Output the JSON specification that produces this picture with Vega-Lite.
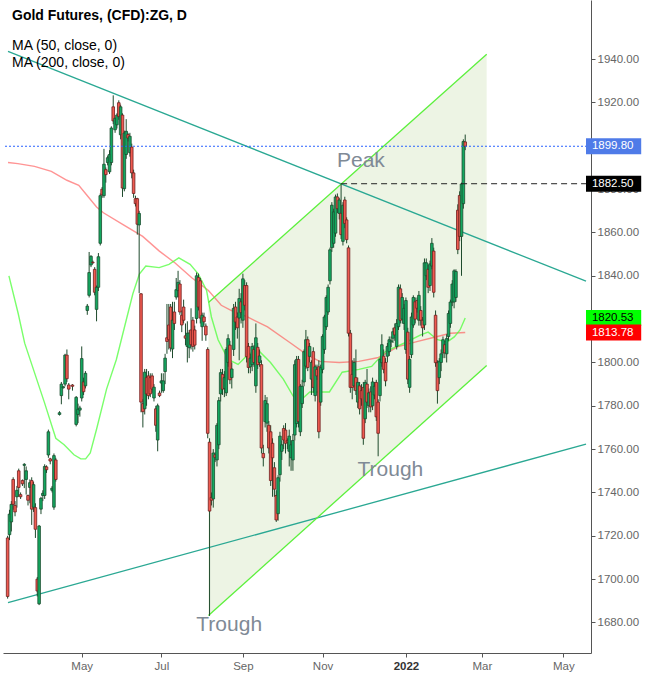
{
  "$schema": "https://vega.github.io/schema/vega-lite/v6.json",
  "width": 588,
  "height": 653,
  "autosize": "none",
  "padding": {"left": 3, "top": 0, "right": 56, "bottom": 20},
  "background": "white",
  "config": {"view": {"stroke": null}},
  "resolve": {"axis": {"x": "independent", "y": "independent"}},
  "title": {
    "text": "Gold Futures, (CFD):ZG, D",
    "subtitle": ["MA (50, close, 0)", "MA (200, close, 0)"],
    "anchor": "start",
    "frame": "group",
    "offset": -70,
    "dx": 9,
    "font": "Liberation Sans",
    "fontSize": 14,
    "fontWeight": "bold",
    "color": "#000000",
    "subtitleFont": "Liberation Sans",
    "subtitleFontSize": 14,
    "subtitleColor": "#000000",
    "subtitlePadding": 16,
    "subtitleLineHeight": 17
  },
  "datasets": {
    "candles": [
      {"i":-40,"o":1719,"h":1720,"l":1691,"c":1692},
      {"i":-39,"o":1720.5,"h":1732,"l":1718,"c":1730},
      {"i":-38,"o":1726.4,"h":1736,"l":1722,"c":1734.5},
      {"i":-37,"o":1746,"h":1747,"l":1732,"c":1734.5},
      {"i":-36,"o":1734,"h":1736,"l":1729,"c":1731},
      {"i":-35,"o":1738,"h":1743,"l":1733,"c":1741},
      {"i":-34,"o":1750,"h":1751,"l":1738,"c":1742.3},
      {"i":-33,"o":1739,"h":1740,"l":1737,"c":1738},
      {"i":-32,"o":1745.5,"h":1746,"l":1743,"c":1744},
      {"i":-31,"o":1752.5,"h":1753.5,"l":1742,"c":1753},
      {"i":-30,"o":1746,"h":1752,"l":1739,"c":1750},
      {"i":-29,"o":1738.6,"h":1739,"l":1734,"c":1736.4},
      {"i":-28,"o":1742.3,"h":1746,"l":1735,"c":1744.5},
      {"i":-27,"o":1745.5,"h":1747,"l":1725,"c":1732.3},
      {"i":-26,"o":1733.2,"h":1745,"l":1731,"c":1743.6},
      {"i":-25,"o":1733,"h":1735,"l":1719,"c":1723},
      {"i":-24,"o":1700,"h":1701,"l":1692,"c":1694.5},
      {"i":-23,"o":1688.6,"h":1725,"l":1688,"c":1724.5},
      {"i":-22,"o":1732.3,"h":1738,"l":1730,"c":1737.3},
      {"i":-21,"o":1738.6,"h":1741,"l":1736,"c":1739.6},
      {"i":-20,"o":1738.6,"h":1753,"l":1737,"c":1752},
      {"i":-19,"o":1751.8,"h":1752.5,"l":1749,"c":1750.5},
      {"i":-18,"o":1757.3,"h":1769,"l":1756,"c":1768},
      {"i":-17,"o":1755.5,"h":1756,"l":1753,"c":1754.5},
      {"i":-16,"o":1741,"h":1743,"l":1740,"c":1742},
      {"i":-15,"o":1733.2,"h":1758,"l":1732,"c":1757},
      {"i":-14,"o":1755,"h":1756,"l":1745,"c":1746},
      {"i":-12,"o":1776,"h":1777.5,"l":1775.5,"c":1776.8},
      {"i":-11,"o":1784.7,"h":1791,"l":1780.7,"c":1790},
      {"i":-10,"o":1788.3,"h":1789,"l":1788,"c":1788.8},
      {"i":-9,"o":1790,"h":1804,"l":1789,"c":1803.4},
      {"i":-8,"o":1803.4,"h":1806,"l":1791,"c":1792.5},
      {"i":-7,"o":1789.6,"h":1790.5,"l":1783,"c":1787.7},
      {"i":-5,"o":1789.6,"h":1790,"l":1787,"c":1789},
      {"i":-3,"o":1771.4,"h":1784.5,"l":1770.5,"c":1783.9},
      {"i":-2,"o":1776,"h":1781,"l":1772,"c":1778.4},
      {"i":-1,"o":1778,"h":1780,"l":1775,"c":1779},
      {"i":0,"o":1783.6,"h":1807.4,"l":1782,"c":1801.8},
      {"i":1,"o":1791,"h":1793,"l":1785,"c":1786.5},
      {"i":2,"o":1789.2,"h":1796,"l":1788,"c":1795},
      {"i":3,"o":1824,"h":1827,"l":1822,"c":1826},
      {"i":4,"o":1831,"h":1851,"l":1830,"c":1841.5},
      {"i":5,"o":1845,"h":1849.5,"l":1844,"c":1849},
      {"i":6,"o":1846.3,"h":1847,"l":1845.5,"c":1846},
      {"i":7,"o":1843,"h":1844,"l":1831,"c":1832.4},
      {"i":8,"o":1824.5,"h":1835.5,"l":1819,"c":1834.7},
      {"i":9,"o":1834.7,"h":1850.5,"l":1833,"c":1848.8},
      {"i":10,"o":1855,"h":1878,"l":1854,"c":1877},
      {"i":11,"o":1880,"h":1881,"l":1876,"c":1877.4},
      {"i":12,"o":1877,"h":1898.6,"l":1876,"c":1891.5},
      {"i":13,"o":1889,"h":1890,"l":1883,"c":1886.7},
      {"i":14,"o":1892.3,"h":1895.5,"l":1891,"c":1894.5},
      {"i":15,"o":1888,"h":1898,"l":1887,"c":1896},
      {"i":16,"o":1892.3,"h":1909,"l":1891,"c":1908.2},
      {"i":17,"o":1918,"h":1923.3,"l":1910,"c":1911.5},
      {"i":18,"o":1907.4,"h":1913,"l":1906,"c":1912.7},
      {"i":19,"o":1909.7,"h":1915,"l":1908,"c":1914.2},
      {"i":20,"o":1919.9,"h":1921,"l":1912,"c":1913.5},
      {"i":21,"o":1905.1,"h":1919,"l":1903,"c":1918},
      {"i":22,"o":1914.2,"h":1915,"l":1876.4,"c":1880.5},
      {"i":23,"o":1880.2,"h":1907,"l":1879,"c":1905.9},
      {"i":24,"o":1896,"h":1912.3,"l":1894,"c":1906.7},
      {"i":25,"o":1905.2,"h":1906,"l":1902,"c":1903.6},
      {"i":26,"o":1896.8,"h":1906,"l":1895,"c":1904.4},
      {"i":27,"o":1899.4,"h":1901,"l":1885,"c":1887.5},
      {"i":28,"o":1887.5,"h":1889,"l":1876,"c":1878},
      {"i":29,"o":1875.6,"h":1877,"l":1872,"c":1873.3},
      {"i":30,"o":1875.6,"h":1876,"l":1859,"c":1863.8},
      {"i":31,"o":1863.5,"h":1870,"l":1832,"c":1868.8},
      {"i":32,"o":1831.7,"h":1832,"l":1777,"c":1781.7},
      {"i":33,"o":1781,"h":1783,"l":1770,"c":1777.3},
      {"i":34,"o":1778.6,"h":1797,"l":1776,"c":1795.5},
      {"i":35,"o":1793,"h":1797,"l":1780,"c":1785.5},
      {"i":36,"o":1793.8,"h":1796,"l":1783,"c":1784.7},
      {"i":37,"o":1793,"h":1795,"l":1784,"c":1785.5},
      {"i":38,"o":1793.8,"h":1795,"l":1786,"c":1787.7},
      {"i":39,"o":1783.6,"h":1790,"l":1782,"c":1788.6},
      {"i":40,"o":1778.6,"h":1780,"l":1768,"c":1771},
      {"i":41,"o":1764.2,"h":1781,"l":1759,"c":1780},
      {"i":42,"o":1785.9,"h":1787,"l":1784,"c":1784.7},
      {"i":43,"o":1790.5,"h":1795,"l":1786,"c":1791.5},
      {"i":44,"o":1787,"h":1795,"l":1786,"c":1791.5},
      {"i":45,"o":1795.8,"h":1804,"l":1790,"c":1802},
      {"i":46,"o":1811.4,"h":1827,"l":1804,"c":1809.7},
      {"i":47,"o":1817.3,"h":1827,"l":1806,"c":1810.5},
      {"i":48,"o":1825.6,"h":1827,"l":1805,"c":1806.7},
      {"i":49,"o":1806.2,"h":1828,"l":1802,"c":1819.5},
      {"i":50,"o":1823.3,"h":1828,"l":1815,"c":1818},
      {"i":51,"o":1830.2,"h":1839,"l":1829,"c":1833.6},
      {"i":52,"o":1833.2,"h":1842.3,"l":1830,"c":1837},
      {"i":53,"o":1836.2,"h":1838,"l":1822,"c":1823.3},
      {"i":54,"o":1821.8,"h":1824,"l":1814,"c":1817.3},
      {"i":55,"o":1825.6,"h":1829,"l":1818,"c":1819.5},
      {"i":56,"o":1812.3,"h":1818,"l":1808,"c":1811.2},
      {"i":57,"o":1807.4,"h":1819,"l":1800,"c":1813.5},
      {"i":58,"o":1806.8,"h":1815,"l":1802,"c":1813.6},
      {"i":59,"o":1815,"h":1825,"l":1806,"c":1808.2},
      {"i":60,"o":1819.5,"h":1821,"l":1805,"c":1807.4},
      {"i":61,"o":1815,"h":1817,"l":1806,"c":1808},
      {"i":62,"o":1820.3,"h":1841.5,"l":1818,"c":1840},
      {"i":63,"o":1839.2,"h":1841,"l":1824,"c":1825.6},
      {"i":64,"o":1837.7,"h":1839,"l":1818,"c":1820.5},
      {"i":65,"o":1816.5,"h":1823,"l":1810,"c":1821.8},
      {"i":66,"o":1821,"h":1823,"l":1817,"c":1818.8},
      {"i":67,"o":1816.8,"h":1818,"l":1810,"c":1812.7},
      {"i":68,"o":1806,"h":1807,"l":1765,"c":1767.3},
      {"i":69,"o":1763.2,"h":1765,"l":1683,"c":1731.4},
      {"i":70,"o":1737.7,"h":1740,"l":1734,"c":1736.4},
      {"i":71,"o":1737,"h":1760,"l":1733,"c":1758.2},
      {"i":72,"o":1757.4,"h":1758.5,"l":1754,"c":1756.2},
      {"i":73,"o":1755,"h":1772,"l":1752,"c":1771},
      {"i":74,"o":1762,"h":1784,"l":1760,"c":1782.4},
      {"i":75,"o":1785.5,"h":1797,"l":1782,"c":1795.3},
      {"i":76,"o":1794.5,"h":1797,"l":1785,"c":1787.7},
      {"i":77,"o":1788,"h":1796,"l":1784,"c":1793},
      {"i":78,"o":1786,"h":1807,"l":1784.5,"c":1806},
      {"i":79,"o":1800,"h":1813,"l":1798,"c":1811},
      {"i":80,"o":1808,"h":1810,"l":1790,"c":1792},
      {"i":81,"o":1793,"h":1800,"l":1788,"c":1797},
      {"i":82,"o":1806,"h":1827,"l":1803,"c":1825},
      {"i":83,"o":1825.6,"h":1828,"l":1815,"c":1818.7},
      {"i":84,"o":1821,"h":1823,"l":1811,"c":1816},
      {"i":85,"o":1820.5,"h":1834,"l":1801,"c":1829.5},
      {"i":86,"o":1828,"h":1832,"l":1818,"c":1823},
      {"i":87,"o":1819.5,"h":1841,"l":1816,"c":1838.6},
      {"i":88,"o":1835.5,"h":1838,"l":1824,"c":1826.4},
      {"i":89,"o":1835.5,"h":1837,"l":1800,"c":1802.7},
      {"i":90,"o":1807.4,"h":1809,"l":1795,"c":1797.7},
      {"i":91,"o":1798,"h":1804,"l":1795,"c":1802},
      {"i":92,"o":1799,"h":1809,"l":1796,"c":1807.4},
      {"i":93,"o":1806,"h":1808,"l":1798,"c":1800},
      {"i":94,"o":1789.2,"h":1818,"l":1786,"c":1811.4},
      {"i":95,"o":1807,"h":1809,"l":1797,"c":1799},
      {"i":96,"o":1800,"h":1806,"l":1798,"c":1803},
      {"i":97,"o":1799,"h":1801,"l":1758,"c":1760.5},
      {"i":98,"o":1758,"h":1762,"l":1752,"c":1756},
      {"i":99,"o":1772.7,"h":1785,"l":1770,"c":1782.4},
      {"i":100,"o":1772,"h":1784,"l":1768,"c":1781},
      {"i":101,"o":1771,"h":1773,"l":1758,"c":1760.5},
      {"i":102,"o":1768,"h":1771,"l":1743,"c":1745.5},
      {"i":103,"o":1762.7,"h":1765,"l":1738,"c":1756},
      {"i":104,"o":1751.4,"h":1754,"l":1738,"c":1741.5},
      {"i":105,"o":1738.6,"h":1741,"l":1726.4,"c":1727.3},
      {"i":106,"o":1730.2,"h":1748,"l":1727,"c":1746.8},
      {"i":107,"o":1748.2,"h":1768,"l":1745,"c":1766},
      {"i":108,"o":1759,"h":1764,"l":1755,"c":1762},
      {"i":109,"o":1769.5,"h":1771,"l":1760,"c":1764.2},
      {"i":110,"o":1768.8,"h":1772,"l":1758,"c":1762.7},
      {"i":111,"o":1764,"h":1765,"l":1760,"c":1763.3},
      {"i":112,"o":1759,"h":1769,"l":1752,"c":1766},
      {"i":113,"o":1756,"h":1764,"l":1750,"c":1762},
      {"i":114,"o":1755,"h":1767,"l":1750,"c":1764},
      {"i":115,"o":1766.5,"h":1801,"l":1764,"c":1799},
      {"i":116,"o":1771.8,"h":1803,"l":1770,"c":1801.4},
      {"i":117,"o":1801.4,"h":1803,"l":1770,"c":1772.7},
      {"i":118,"o":1768,"h":1790,"l":1766,"c":1789},
      {"i":119,"o":1781,"h":1792,"l":1779,"c":1789},
      {"i":120,"o":1791,"h":1806,"l":1789,"c":1805},
      {"i":121,"o":1798.3,"h":1815,"l":1797,"c":1810.5},
      {"i":122,"o":1810.5,"h":1812,"l":1796,"c":1797.7},
      {"i":123,"o":1802.8,"h":1809,"l":1800,"c":1807.4},
      {"i":124,"o":1792.3,"h":1801,"l":1785,"c":1800},
      {"i":125,"o":1805,"h":1807,"l":1786,"c":1788.5},
      {"i":126,"o":1784.7,"h":1799,"l":1782,"c":1798},
      {"i":127,"o":1796.8,"h":1799,"l":1792,"c":1793.8},
      {"i":128,"o":1798,"h":1801,"l":1765,"c":1768},
      {"i":129,"o":1781.7,"h":1799,"l":1780,"c":1797.6},
      {"i":130,"o":1796.8,"h":1813,"l":1795,"c":1812},
      {"i":131,"o":1806,"h":1822,"l":1804,"c":1821},
      {"i":132,"o":1816.5,"h":1831,"l":1815,"c":1830},
      {"i":133,"o":1823.3,"h":1836,"l":1822,"c":1834.7},
      {"i":134,"o":1837.7,"h":1853,"l":1836,"c":1852},
      {"i":135,"o":1853,"h":1874,"l":1851,"c":1872.6},
      {"i":136,"o":1855,"h":1871,"l":1853,"c":1869.5},
      {"i":137,"o":1859.7,"h":1877.5,"l":1858,"c":1876.4},
      {"i":138,"o":1876.4,"h":1878,"l":1869,"c":1871},
      {"i":139,"o":1868.8,"h":1876,"l":1866,"c":1875},
      {"i":140,"o":1868.8,"h":1882.5,"l":1857,"c":1859},
      {"i":141,"o":1855.9,"h":1874,"l":1854,"c":1872.6},
      {"i":142,"o":1875,"h":1876.5,"l":1862,"c":1864.2},
      {"i":143,"o":1865.8,"h":1867,"l":1855,"c":1856.7},
      {"i":144,"o":1852.9,"h":1854,"l":1812,"c":1813.5},
      {"i":145,"o":1813.5,"h":1815,"l":1786,"c":1788.5},
      {"i":146,"o":1794.5,"h":1801,"l":1783,"c":1788.5},
      {"i":147,"o":1789.2,"h":1802,"l":1787,"c":1800},
      {"i":148,"o":1793,"h":1806,"l":1785,"c":1787},
      {"i":149,"o":1781.7,"h":1793,"l":1779,"c":1790.8},
      {"i":150,"o":1789.2,"h":1791,"l":1776,"c":1778.6},
      {"i":151,"o":1787,"h":1790,"l":1780,"c":1783.2},
      {"i":152,"o":1788.5,"h":1791,"l":1762,"c":1765},
      {"i":153,"o":1774,"h":1792,"l":1772,"c":1790.8},
      {"i":154,"o":1790,"h":1797,"l":1779,"c":1781.7},
      {"i":155,"o":1780,"h":1788,"l":1777,"c":1786},
      {"i":156,"o":1786.4,"h":1789,"l":1777,"c":1779.5},
      {"i":157,"o":1780,"h":1793,"l":1778,"c":1791},
      {"i":158,"o":1785,"h":1791,"l":1783,"c":1789},
      {"i":159,"o":1790.8,"h":1792,"l":1773,"c":1774.9},
      {"i":160,"o":1781.7,"h":1783,"l":1756.7,"c":1767.3},
      {"i":161,"o":1784.7,"h":1802,"l":1782,"c":1801.4},
      {"i":162,"o":1799.9,"h":1813,"l":1798,"c":1808.2},
      {"i":163,"o":1802.9,"h":1806,"l":1795,"c":1796.8},
      {"i":164,"o":1800,"h":1802,"l":1789,"c":1791.5},
      {"i":165,"o":1802.9,"h":1809,"l":1800,"c":1807.4},
      {"i":166,"o":1805,"h":1812,"l":1803,"c":1810.5},
      {"i":167,"o":1809.5,"h":1812,"l":1807,"c":1810},
      {"i":168,"o":1811.2,"h":1816,"l":1809,"c":1814.2},
      {"i":169,"o":1816,"h":1818,"l":1810,"c":1812.7},
      {"i":170,"o":1807.4,"h":1820,"l":1806,"c":1818},
      {"i":171,"o":1816.5,"h":1836,"l":1815,"c":1834.7},
      {"i":172,"o":1834,"h":1836,"l":1818,"c":1819.5},
      {"i":173,"o":1820,"h":1832,"l":1818,"c":1830},
      {"i":174,"o":1818,"h":1827,"l":1815,"c":1825},
      {"i":175,"o":1806,"h":1830,"l":1804,"c":1828.6},
      {"i":176,"o":1814,"h":1816,"l":1790,"c":1792.3},
      {"i":177,"o":1788.5,"h":1803,"l":1786,"c":1801.4},
      {"i":178,"o":1803.6,"h":1823,"l":1802,"c":1821},
      {"i":179,"o":1817.3,"h":1831,"l":1816,"c":1830},
      {"i":180,"o":1828,"h":1830,"l":1818,"c":1820},
      {"i":181,"o":1828.6,"h":1830,"l":1823,"c":1825},
      {"i":182,"o":1819.5,"h":1833,"l":1817,"c":1831},
      {"i":183,"o":1824,"h":1826,"l":1817,"c":1819.5},
      {"i":184,"o":1819.5,"h":1821,"l":1812,"c":1816},
      {"i":185,"o":1817.3,"h":1848,"l":1815,"c":1846},
      {"i":186,"o":1840,"h":1848,"l":1838,"c":1846},
      {"i":187,"o":1843,"h":1845,"l":1832,"c":1834.7},
      {"i":188,"o":1835.5,"h":1847,"l":1833,"c":1845.5},
      {"i":189,"o":1844.5,"h":1857.4,"l":1843,"c":1855},
      {"i":190,"o":1851.4,"h":1853,"l":1830,"c":1832.4},
      {"i":191,"o":1821.8,"h":1824,"l":1798,"c":1799.9},
      {"i":192,"o":1799.9,"h":1801,"l":1781,"c":1787},
      {"i":193,"o":1793,"h":1802,"l":1790,"c":1800.6},
      {"i":194,"o":1800,"h":1806,"l":1796,"c":1804},
      {"i":195,"o":1804.4,"h":1812,"l":1802,"c":1810.5},
      {"i":196,"o":1808.2,"h":1810,"l":1802,"c":1804.4},
      {"i":197,"o":1804,"h":1813,"l":1800,"c":1811},
      {"i":198,"o":1812,"h":1824,"l":1810,"c":1822.6},
      {"i":199,"o":1818,"h":1829,"l":1816,"c":1827.9},
      {"i":200,"o":1827.9,"h":1838,"l":1826,"c":1836.2},
      {"i":201,"o":1827.9,"h":1843,"l":1825,"c":1842.3},
      {"i":202,"o":1830,"h":1843,"l":1828,"c":1842},
      {"i":203,"o":1870.3,"h":1873,"l":1850,"c":1852.1},
      {"i":204,"o":1877.1,"h":1879,"l":1856,"c":1858.2},
      {"i":205,"o":1858.2,"h":1883,"l":1840,"c":1882.4},
      {"i":206,"o":1873.3,"h":1903,"l":1871,"c":1902},
      {"i":207,"o":1901.8,"h":1905.2,"l":1898,"c":1899.8}
    ],
    "ma200": [
      {"i":-39.8,"p":1892.3},{"i":-34.5,"p":1891.8},{"i":-25.5,"p":1890.5},{"i":-16.4,"p":1888.2},
      {"i":-8,"p":1884.1},{"i":-1.6,"p":1881.8},{"i":2.7,"p":1877.3},{"i":8,"p":1871.8},
      {"i":11.7,"p":1869.1},{"i":22.3,"p":1863.6},{"i":32.9,"p":1858.2},{"i":41.9,"p":1851.4},
      {"i":50.4,"p":1845.9},{"i":59.4,"p":1839.1},{"i":68.4,"p":1833.2},{"i":75.3,"p":1826.4},
      {"i":80.6,"p":1824.1},{"i":89.7,"p":1820.9},{"i":100.3,"p":1816.4},{"i":112.5,"p":1809.1},
      {"i":121.5,"p":1803.6},{"i":128.4,"p":1800.5},{"i":139,"p":1800},{"i":149.6,"p":1800.5},
      {"i":160.2,"p":1802.3},{"i":170.8,"p":1807.3},{"i":181.4,"p":1809.7},{"i":192,"p":1812},
      {"i":199,"p":1813.5},{"i":207,"p":1813.8}
    ],
    "ma50": [
      {"i":-39.3,"p":1840},{"i":-34.3,"p":1822.6},{"i":-30.8,"p":1808.9},{"i":-25.5,"p":1795.3},
      {"i":-20.2,"p":1781.7},{"i":-14,"p":1765},{"i":-9.5,"p":1762},{"i":-4.2,"p":1757.4},
      {"i":-0.5,"p":1755.5},{"i":2.1,"p":1755.5},{"i":4.6,"p":1758.2},{"i":8.1,"p":1769.5},
      {"i":13.4,"p":1787.7},{"i":18.7,"p":1801.4},{"i":24,"p":1819.5},{"i":27.6,"p":1831.7},
      {"i":31.1,"p":1840.8},{"i":34.6,"p":1844.5},{"i":41.8,"p":1843.8},{"i":47.1,"p":1845.3},
      {"i":52.4,"p":1848.3},{"i":58.5,"p":1845.3},{"i":63,"p":1840.8},{"i":67.4,"p":1833.2},
      {"i":70,"p":1821},{"i":73.6,"p":1810.5},{"i":79,"p":1801.4},{"i":84.4,"p":1799.1},
      {"i":89.7,"p":1803.6},{"i":95,"p":1805.9},{"i":101.9,"p":1800},{"i":108.8,"p":1792.3},
      {"i":114.1,"p":1784.5},{"i":117.8,"p":1782.3},{"i":123.1,"p":1786.4},{"i":133.7,"p":1786.4},
      {"i":140.6,"p":1795.5},{"i":149.6,"p":1796.8},{"i":156.5,"p":1798.2},{"i":163.9,"p":1805},
      {"i":174.5,"p":1809.1},{"i":183,"p":1812.7},{"i":187,"p":1814},{"i":192,"p":1810.5},
      {"i":197.3,"p":1809.5},{"i":201.1,"p":1811.8},{"i":204.2,"p":1815},{"i":207,"p":1820.5}
    ],
    "teal": [
      {"id":"a","i":-39.8,"p":1943.6},{"id":"a","i":272.2,"p":1837.5},
      {"id":"b","i":-39.8,"p":1689.1},{"id":"b","i":272.2,"p":1762.3}
    ],
    "chanLines": [
      {"id":"up","i":68.4,"p":1827.7},{"id":"up","i":218.6,"p":1942.3},
      {"id":"lo","i":68.4,"p":1683.2},{"id":"lo","i":218.6,"p":1798.6}
    ],
    "chanArea": [
      {"i":68.4,"lo":1683.2,"hi":1827.7},
      {"i":218.6,"lo":1798.6,"hi":1942.3}
    ],
    "peakLine": [
      {"i":140,"p":1882.5},{"i":272.2,"p":1882.5}
    ],
    "lastLine": [{"p":1899.8}],
    "tags": [
      {"k":"last","p":1899.8},
      {"k":"peak","p":1882.5},
      {"k":"ma50","p":1820.53},
      {"k":"ma200","p":1813.78}
    ],
    "notes": [
      {"t":"Peak","i":150.7,"p":1893.2},
      {"t":"Trough","i":166.6,"p":1750.5},
      {"t":"Trough","i":79.6,"p":1678.6}
    ]
  },
  "layer": [
    {
      "data": {"name": "chanArea"},
      "mark": {"type": "area", "color": "#7cb342", "opacity": 0.14, "clip": true},
      "encoding": {
        "x": {
          "field": "i", "type": "quantitative",
          "scale": {"domain": [-39.8, 272.2], "nice": false, "zero": false},
          "axis": {
            "orient": "bottom", "title": null, "grid": false,
            "values": [0, 43, 87, 130, 175, 216, 260],
            "labelExpr": "datum.value == 0 ? 'May' : datum.value == 43 ? 'Jul' : datum.value == 87 ? 'Sep' : datum.value == 130 ? 'Nov' : datum.value == 175 ? '2022' : datum.value == 216 ? 'Mar' : 'May'",
            "tickSize": 4, "tickColor": "#555555", "domainColor": "#555555",
            "labelFont": "Liberation Sans", "labelFontSize": 11.5,
            "labelColor": {"condition": {"test": "datum.value == 175", "value": "#333333"}, "value": "#666666"},
            "labelFontWeight": {"condition": {"test": "datum.value == 175", "value": "bold"}, "value": "normal"},
            "labelPadding": 3
          }
        },
        "y": {
          "field": "lo", "type": "quantitative",
          "scale": {"domain": [1668.2, 1965], "nice": false, "zero": false},
          "axis": {
            "orient": "right", "title": null, "grid": false,
            "values": [1680, 1700, 1720, 1740, 1760, 1780, 1800, 1840, 1860, 1880, 1920, 1940],
            "format": ".2f",
            "tickSize": 4, "tickColor": "#555555", "domainColor": "#555555",
            "labelFont": "Liberation Sans", "labelFontSize": 11.5, "labelColor": "#666666",
            "labelPadding": 2
          }
        },
        "y2": {"field": "hi"}
      }
    },
    {
      "data": {"name": "ma200"},
      "mark": {"type": "line", "color": "#ff4d4d", "opacity": 0.6, "strokeWidth": 1.4, "clip": true},
      "encoding": {
        "x": {"field": "i", "type": "quantitative", "axis": null},
        "y": {"field": "p", "type": "quantitative", "axis": null}
      }
    },
    {
      "data": {"name": "ma50"},
      "mark": {"type": "line", "color": "#4dff3a", "opacity": 0.75, "strokeWidth": 1.4, "clip": true},
      "encoding": {
        "x": {"field": "i", "type": "quantitative", "axis": null},
        "y": {"field": "p", "type": "quantitative", "axis": null}
      }
    },
    {
      "data": {"name": "teal"},
      "mark": {"type": "line", "color": "#2aa893", "strokeWidth": 1.3, "clip": true},
      "encoding": {
        "x": {"field": "i", "type": "quantitative", "axis": null},
        "y": {"field": "p", "type": "quantitative", "axis": null},
        "detail": {"field": "id"}
      }
    },
    {
      "data": {"name": "chanLines"},
      "mark": {"type": "line", "color": "#5cf03c", "strokeWidth": 1.3, "clip": true},
      "encoding": {
        "x": {"field": "i", "type": "quantitative", "axis": null},
        "y": {"field": "p", "type": "quantitative", "axis": null},
        "detail": {"field": "id"}
      }
    },
    {
      "data": {"name": "candles"},
      "mark": {"type": "rule", "color": "#1e4a2c", "strokeWidth": 1, "clip": true},
      "encoding": {
        "x": {"field": "i", "type": "quantitative", "axis": null},
        "y": {"field": "l", "type": "quantitative", "axis": null},
        "y2": {"field": "h"}
      }
    },
    {
      "data": {"name": "candles"},
      "mark": {"type": "bar", "size": 2.6, "strokeWidth": 0.8, "clip": true},
      "encoding": {
        "x": {"field": "i", "type": "quantitative", "axis": null},
        "y": {"field": "o", "type": "quantitative", "axis": null},
        "y2": {"field": "c"},
        "fill": {"condition": {"test": "datum.c >= datum.o", "value": "#13a860"}, "value": "#f05a50"},
        "stroke": {"condition": {"test": "datum.c >= datum.o", "value": "#1b4d2e"}, "value": "#6e1f1f"}
      }
    },
    {
      "data": {"name": "lastLine"},
      "mark": {"type": "rule", "color": "#2962ff", "strokeWidth": 1, "strokeDash": [2, 2]},
      "encoding": {
        "y": {"field": "p", "type": "quantitative", "axis": null}
      }
    },
    {
      "data": {"name": "peakLine"},
      "mark": {"type": "line", "color": "#222222", "strokeWidth": 1, "strokeDash": [6, 4], "clip": true},
      "encoding": {
        "x": {"field": "i", "type": "quantitative", "axis": null},
        "y": {"field": "p", "type": "quantitative", "axis": null}
      }
    },
    {
      "data": {"name": "notes"},
      "mark": {"type": "text", "font": "Liberation Sans", "fontSize": 21, "color": "#7f8a96", "align": "center", "baseline": "middle"},
      "encoding": {
        "x": {"field": "i", "type": "quantitative", "axis": null},
        "y": {"field": "p", "type": "quantitative", "axis": null},
        "text": {"field": "t"}
      }
    },
    {
      "data": {"name": "tags"},
      "mark": {"type": "bar", "orient": "horizontal", "size": 16, "clip": false},
      "encoding": {
        "x": {"datum": 272.2, "type": "quantitative", "axis": null},
        "x2": {"datum": 302},
        "y": {"field": "p", "type": "quantitative", "axis": null},
        "color": {
          "field": "k", "type": "nominal", "legend": null,
          "scale": {"domain": ["last", "peak", "ma50", "ma200"], "range": ["#4f7be8", "#000000", "#00ff00", "#ff0000"]}
        }
      }
    },
    {
      "data": {"name": "tags"},
      "mark": {"type": "text", "font": "Liberation Sans", "fontSize": 11.5, "align": "left", "baseline": "middle", "clip": false},
      "encoding": {
        "x": {"datum": 275.4, "type": "quantitative", "axis": null},
        "y": {"field": "p", "type": "quantitative", "axis": null},
        "text": {"field": "p", "type": "quantitative", "format": ".2f"},
        "fill": {"condition": {"test": "datum.k == 'ma50'", "value": "#000000"}, "value": "#ffffff"}
      }
    }
  ]
}
